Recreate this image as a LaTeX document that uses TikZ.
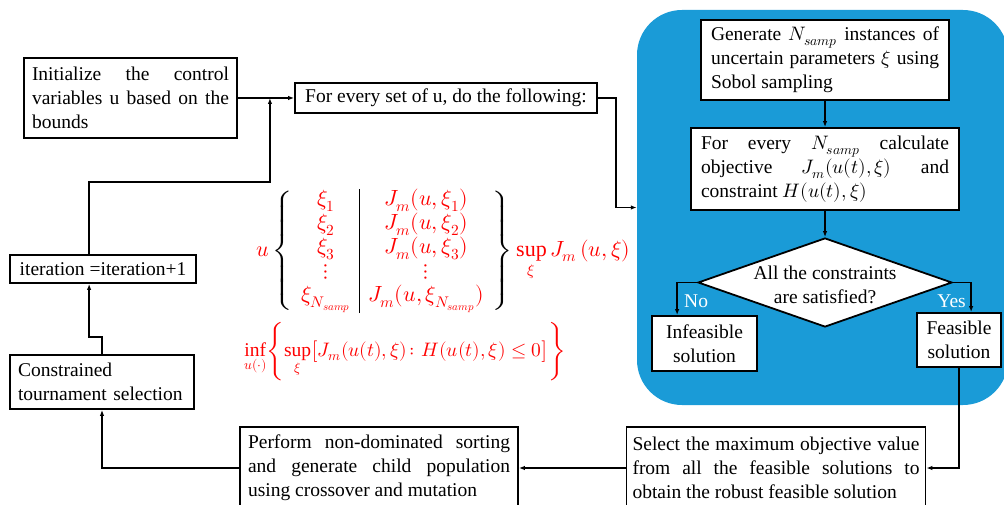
\documentclass[tikz,border=0pt]{standalone}
\usepackage{fontspec}
\usepackage{unicode-math}
\setmainfont{Liberation Serif}
\usetikzlibrary{arrows.meta,shapes.geometric,calc}

\definecolor{panelblue}{RGB}{26,155,215}
\definecolor{mathred}{RGB}{255,0,0}
\newcommand{\rd}[1]{\textcolor{mathred}{#1}}
\newcommand{\bodysize}{\fontsize{19.5}{24}\selectfont\tolerance=9999\hyphenpenalty=10000\exhyphenpenalty=10000}

\begin{document}
\begin{tikzpicture}[x=1pt,y=-1pt,
  box/.style={draw, line width=1.8pt, fill=white, font=\bodysize, inner ysep=2pt},
  link/.style={line width=1.4pt, -{Latex[length=6pt,width=4.5pt]}},
  tag/.style={text=white, font=\bodysize, inner sep=0pt},
  eq/.style={font=\fontsize{22}{24}\selectfont, inner sep=0pt}]
\useasboundingbox (0,0) rectangle (1004,505);

% blue panel holding the sampling loop
\node[fill=panelblue, rounded corners=45pt, minimum width=371pt, minimum height=395pt, inner sep=0pt] (panel) at (822.5,207.5) {};

% main loop boxes
\node[box, inner xsep=8pt, text width=197pt, align=justify, minimum height=80pt] (init) at (130.5,98)
  {Initialize the control variables u based on the bounds};
\node[box, minimum width=302pt, minimum height=30pt] (every) at (446,98)
  {For every set of u, do the following:};

% inner sampling loop
\node[box, inner xsep=10pt, text width=228pt, align=justify, minimum height=80pt] (gen) at (825,60)
  {Generate $N_{samp}$ instances of uncertain parameters $\xi$ using Sobol sampling};
\node[box, inner xsep=10pt, text width=248pt, align=justify, minimum height=82pt] (calc) at (825,169)
  {For every $N_{samp}$ calculate objective $J_m(u(t),\xi)$ and constraint $H(u(t),\xi)$};
\node[diamond, draw, line width=1.8pt, fill=white, minimum width=254pt, minimum height=89pt, inner sep=0pt] (check) at (825,282.5) {};
\node[font=\bodysize, align=center, inner sep=0pt] (checktext) at (825,285)
  {All the constraints\\are satisfied?};
\node[box, align=center, minimum width=105pt, minimum height=55pt, inner xsep=4pt] (infeas) at (704.5,343.5)
  {Infeasible\\solution};
\node[box, align=center, minimum width=84pt, minimum height=54pt, inner xsep=4pt] (feas) at (959,340)
  {Feasible\\solution};

% bottom row
\node[box, inner xsep=6pt, text width=287pt, align=justify, minimum height=82pt] (select) at (776,468)
  {Select the maximum objective value from all the feasible solutions to obtain the robust feasible solution};
\node[box, inner xsep=8pt, text width=262pt, align=justify, minimum height=82pt] (perform) at (379,468)
  {Perform non-dominated sorting and generate child population using crossover and mutation};
\node[box, inner xsep=8pt, text width=168pt, align=left, minimum height=54pt] (constr) at (102,382)
  {Constrained\\tournament selection};
\node[box, minimum width=186pt, minimum height=28pt] (iter) at (103,269)
  {iteration =iteration+1};

% branch labels
\node[tag, anchor=west] (no) at (684,301) {No};
\node[tag, anchor=east] (yes) at (966,301) {Yes};

% connectors
\coordinate (merge) at ($(init.east)!0.57!(every.west)$);
\draw[link] (init.east) -- (every.west);
\draw[link] (every.east) -- ++(18,0) |- (panel.west);
\draw[link] (gen.south) -- (calc.north);
\draw[link] (calc.south) -- (check.north);
\draw[link] (check.west) -| ($(infeas.north west)+(26,0)$);
\draw[link] (check.east) -| ($(feas.north west)+(55,0)$);
\draw[link] (feas.south) |- (select.east);
\draw[link] (select.west) -- (perform.east);
\draw[link] (perform.west) -| (constr.south);
\draw[link] (constr.north) -- ++(0,-17) -| ($(iter.south west)+(80,0)$);
\draw[link] ($(iter.north west)+(80,0)$) -- ++(0,-72) -| (merge);

% worst-case objective over the samples
\node[eq, anchor=west] (worst) at (256,251)
  {\setlength{\arrayrulewidth}{1.2pt}\setlength{\arraycolsep}{9pt}%
   $\rd{u}\left\{\begin{array}{c|c}
     \rd{\xi_1} & \rd{J_m(u,\xi_1)}\\
     \rd{\xi_2} & \rd{J_m(u,\xi_2)}\\
     \rd{\xi_3} & \rd{J_m(u,\xi_3)}\\
     \rd{\vdots} & \rd{\vdots}\\
     \rd{\xi_{N_{samp}}} & \rd{J_m(u,\xi_{N_{samp}})}
   \end{array}\right\}\rd{\sup\limits_{\xi} J_m\,(u,\xi)}$};

% robust optimisation problem
\node[font=\fontsize{19.5}{24}\selectfont, inner sep=0pt, anchor=base west, text=mathred] (robust) at (244,356)
  {$\inf\limits_{u(\cdot)}\Biggl\{\sup\limits_{\xi}\bigl[J_m(u(t),\xi)\colon H(u(t),\xi)\le 0\bigr]\Biggr\}$};
\end{tikzpicture}
\end{document}
